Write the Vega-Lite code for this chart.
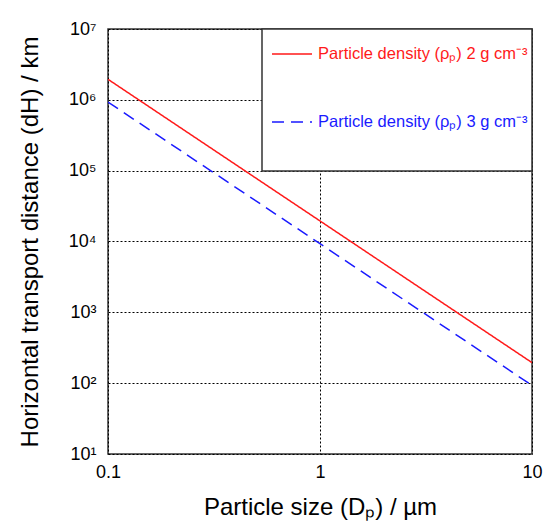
{
  "$schema": "https://vega.github.io/schema/vega-lite/v6.json",
  "autosize": {"type": "none"},
  "padding": {"left": 108, "top": 29, "right": 12, "bottom": 68},
  "width": 424,
  "height": 425,
  "background": "white",
  "config": {
    "font": "Liberation Sans",
    "view": {"stroke": "#333333", "strokeWidth": 1.5},
    "axis": {
      "domain": false,
      "ticks": false,
      "grid": true,
      "gridColor": "#000000",
      "gridDash": [2, 2],
      "gridWidth": 1,
      "gridOpacity": 1,
      "labelFont": "Liberation Sans",
      "labelFontSize": 18,
      "labelColor": "#000000",
      "titleFont": "Liberation Sans",
      "titleFontSize": 24,
      "titleFontWeight": "normal",
      "titleColor": "#000000"
    }
  },
  "data": {
    "values": [
      {"D": 0.1, "d": 1950000, "series": "Particle density (ρₚ) 2 g cm⁻³"},
      {"D": 1, "d": 19500, "series": "Particle density (ρₚ) 2 g cm⁻³"},
      {"D": 10, "d": 195, "series": "Particle density (ρₚ) 2 g cm⁻³"},
      {"D": 0.1, "d": 930000, "series": "Particle density (ρₚ) 3 g cm⁻³"},
      {"D": 1, "d": 9300, "series": "Particle density (ρₚ) 3 g cm⁻³"},
      {"D": 10, "d": 93, "series": "Particle density (ρₚ) 3 g cm⁻³"}
    ]
  },
  "mark": {"type": "line", "strokeWidth": 1.5, "clip": true},
  "encoding": {
    "x": {
      "field": "D",
      "type": "quantitative",
      "scale": {"type": "log", "domain": [0.1, 10], "nice": false},
      "axis": {
        "values": [0.1, 1, 10],
        "labelExpr": "datum.value < 0.5 ? '0.1' : (datum.value < 5 ? '1' : '10')",
        "labelPadding": 9,
        "labelFlush": false,
        "title": "Particle size (Dₚ) / µm",
        "titlePadding": 14
      }
    },
    "y": {
      "field": "d",
      "type": "quantitative",
      "scale": {"type": "log", "domain": [10, 10000000], "nice": false},
      "axis": {
        "values": [10, 100, 1000, 10000, 100000, 1000000, 10000000],
        "labelExpr": "'10' + ['⁰','¹','²','³','⁴','⁵','⁶','⁷'][round(log(datum.value)/LN10)]",
        "labelPadding": 12,
        "labelFlush": false,
        "title": "Horizontal transport distance (dH) / km",
        "titlePadding": 26
      }
    },
    "color": {
      "field": "series",
      "type": "nominal",
      "scale": {"range": ["#ff1a1a", "#1a1aff"]},
      "legend": {
        "orient": "top-right",
        "offset": 0,
        "title": " ",
        "titleOrient": "bottom",
        "titlePadding": 21,
        "titleFontSize": 15,
        "fillColor": "white",
        "strokeColor": "#333333",
        "padding": 4,
        "symbolOffset": 5,
        "symbolType": "stroke",
        "symbolSize": 1600,
        "symbolStrokeWidth": 1.5,
        "labelFont": "Liberation Sans",
        "labelFontSize": 16.5,
        "labelOffset": 5,
        "labelLimit": 400,
        "rowPadding": 38,
        "encode": {
          "legend": {"update": {"strokeWidth": {"value": 1.5}}},
          "labels": {
            "update": {
              "fill": {"signal": "indexof(datum.label, '2 g') >= 0 ? '#ff1a1a' : '#1a1aff'"}
            }
          }
        }
      }
    },
    "strokeDash": {
      "field": "series",
      "type": "nominal",
      "scale": {"range": [[1, 0], [12, 7]]},
      "legend": null
    }
  }
}
